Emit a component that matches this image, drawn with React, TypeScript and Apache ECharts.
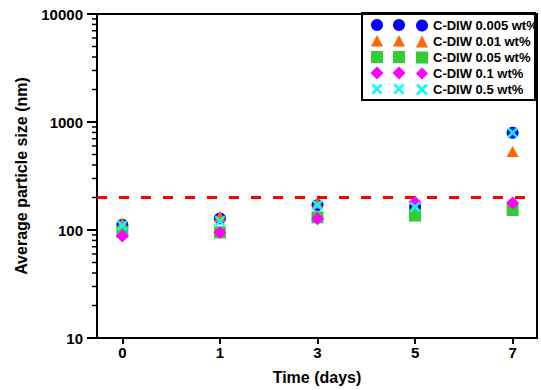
import React, { useEffect, useRef } from 'react';
import * as echarts from 'echarts';

const dayLabels = ['0', '1', '3', '5', '7'];
const seriesNames = ['C-DIW 0.005 wt%', 'C-DIW 0.01 wt%', 'C-DIW 0.05 wt%', 'C-DIW 0.1 wt%', 'C-DIW 0.5 wt%'];
const c0005 = [112, 128, 170, 163, 796];
const c001 = [116, 133, 178, 165, 533];
const c005 = [96, 95, 131, 136, 153];
const c01 = [88, 95, 127, 181, 178];
const c05 = [110, 121, 170, 163, 796];
const thresholdValue = 200;
const minorTickValues = [20, 30, 40, 50, 60, 70, 80, 90, 200, 300, 400, 500, 600, 700, 800, 900, 2000, 3000, 4000, 5000, 6000, 7000, 8000, 9000];

const colors = ['#0000FF', '#FF6600', '#33CC33', '#FF00FF', '#00FFFF'];
const CROSS = 'path://M0,1.6 L1.6,0 L5,3.4 L8.4,0 L10,1.6 L6.6,5 L10,8.4 L8.4,10 L5,6.6 L1.6,10 L0,8.4 L3.4,5 Z';
const symbols = ['circle', 'triangle', 'rect', 'diamond', CROSS];
const sizes: any[] = [12, [12, 11], 12, 13, 11];
const allValues = [c0005, c001, c005, c01, c05];

const X_MIN = -0.26;
const X_MAX = 4.25;
const FONT = '"Liberation Sans", Arial, sans-serif';

function legendShape(kind: number, cx: number, cy: number, fill: string): any {
  if (kind === 0) return { type: 'circle', shape: { cx, cy, r: 6 }, style: { fill } };
  if (kind === 1) return { type: 'polygon', shape: { points: [[cx, cy - 6], [cx + 6, cy + 5.5], [cx - 6, cy + 5.5]] }, style: { fill } };
  if (kind === 2) return { type: 'rect', shape: { x: cx - 6, y: cy - 6, width: 12, height: 12 }, style: { fill } };
  if (kind === 3) return { type: 'polygon', shape: { points: [[cx, cy - 6.5], [cx + 6.5, cy], [cx, cy + 6.5], [cx - 6.5, cy]] }, style: { fill } };
  const s = 1.1;
  const pts = [[0, 1.6], [1.6, 0], [5, 3.4], [8.4, 0], [10, 1.6], [6.6, 5], [10, 8.4], [8.4, 10], [5, 6.6], [1.6, 10], [0, 8.4], [3.4, 5]]
    .map(([x, y]) => [cx + (x - 5) * s, cy + (y - 5) * s]);
  return { type: 'polygon', shape: { points: pts }, style: { fill } };
}

export default function App() {
  const ref = useRef<HTMLDivElement>(null);
  useEffect(() => {
    if (!ref.current) return;
    const chart = echarts.init(ref.current, undefined, { renderer: 'svg' });
    const rowY = [25, 41, 57, 73, 89];
    const graphics: any[] = [
      { type: 'rect', shape: { x: 362, y: 13, width: 173, height: 87 }, style: { fill: 'none', stroke: '#000', lineWidth: 2 }, z: 10 },
    ];
    rowY.forEach((cy, i) => {
      graphics.push({ ...legendShape(i, 377, cy, colors[i]), z: 11 });
      graphics.push({ ...legendShape(i, 399, cy, colors[i]), z: 11 });
    });

    const scatterSeries = seriesNames.map((name, i) => ({
      name,
      type: 'scatter',
      symbol: symbols[i],
      symbolSize: sizes[i],
      itemStyle: { color: colors[i], opacity: 1 },
      data: allValues[i].map((v, j) => [j, v]),
      z: 3 + i,
    }));

    chart.setOption({
      animation: false,
      backgroundColor: '#fff',
      grid: { left: 97, right: 4, top: 14, bottom: 52, show: true, borderColor: '#000', borderWidth: 2 },
      legend: {
        data: seriesNames.map((n, i) => ({ name: n, icon: symbols[i] })),
        orient: 'vertical',
        left: 416,
        top: 19,
        itemWidth: 12,
        itemHeight: 12,
        itemGap: 3,
        padding: 0,
        textStyle: { fontFamily: FONT, fontWeight: 'bold', fontSize: 13, color: '#000' },
        selectedMode: false,
      },
      xAxis: {
        type: 'value',
        min: X_MIN,
        max: X_MAX,
        name: 'Time (days)',
        nameLocation: 'middle',
        nameGap: 31,
        nameTextStyle: { fontFamily: FONT, fontWeight: 'bold', fontSize: 16, color: '#000' },
        axisLine: { show: true, onZero: false, lineStyle: { color: '#000', width: 2 } },
        axisTick: { show: true, customValues: [0, 1, 2, 3, 4], length: 6, lineStyle: { color: '#000', width: 2 } },
        axisLabel: {
          customValues: [0, 1, 2, 3, 4],
          formatter: (v: number) => dayLabels[Math.round(v)] ?? '',
          fontFamily: FONT, fontWeight: 'bold', fontSize: 15, color: '#000', margin: 7,
        },
        splitLine: { show: false },
      },
      yAxis: {
        type: 'log',
        logBase: 10,
        min: 10,
        max: 10000,
        interval: 1,
        name: 'Average particle size (nm)',
        nameLocation: 'middle',
        nameGap: 68,
        nameTextStyle: { fontFamily: FONT, fontWeight: 'bold', fontSize: 16, color: '#000' },
        axisLine: { show: true, onZero: false, lineStyle: { color: '#000', width: 2 } },
        axisTick: { show: true, length: 10, lineStyle: { color: '#000', width: 2 } },
        axisLabel: { fontFamily: FONT, fontWeight: 'bold', fontSize: 15, color: '#000', margin: 14, formatter: (v: number) => String(Math.round(v)) },
        splitLine: { show: false },
      },
      graphic: graphics,
      series: [
        {
          name: 'threshold',
          type: 'line',
          data: [],
          z: 1,
          markLine: {
            silent: true,
            symbol: ['none', 'none'],
            label: { show: false },
            lineStyle: { color: '#FF0000', width: 3, type: [10, 12] },
            data: [{ yAxis: thresholdValue }],
          },
        },
        ...scatterSeries,
      ],
    });

    // minor ticks on the log axis, positioned through the chart's own scale
    const minor = minorTickValues.map((v) => {
      const pt = chart.convertToPixel({ gridIndex: 0 }, [X_MIN, v]) as number[];
      return {
        type: 'line',
        shape: { x1: pt[0] - 5, y1: pt[1], x2: pt[0], y2: pt[1] },
        style: { stroke: '#000', lineWidth: 1.5 },
        z: 12,
        silent: true,
      };
    });
    chart.setOption({ graphic: [...graphics, ...minor] });

    return () => chart.dispose();
  }, []);
  return <div ref={ref} style={{ width: 541, height: 390, position: 'fixed', left: 0, top: 0 }} />;
}
